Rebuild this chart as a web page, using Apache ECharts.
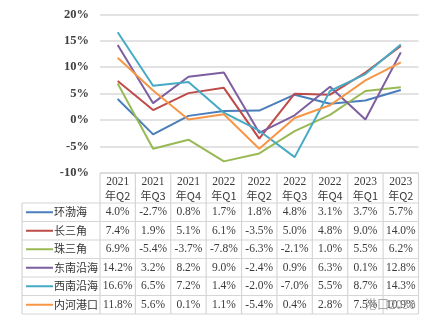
<!DOCTYPE html>
<html><head><meta charset="utf-8">
<script src="https://cdn.jsdelivr.net/npm/echarts@6/dist/echarts.min.js"></script>
<style>html,body{margin:0;padding:0;background:#fff}#c{width:434px;height:321px}</style>
</head><body><div id="c"></div>
<script>
const categories = ['2021年Q2','2021年Q3','2021年Q4','2022年Q1','2022年Q2','2022年Q3','2022年Q4','2023年Q1','2023年Q2'];
const headerTop = ['2021','2021','2021','2022','2022','2022','2022','2023','2023'];
const headerBottom = ['年Q2','年Q3','年Q4','年Q1','年Q2','年Q3','年Q4','年Q1','年Q2'];
const seriesNames = ['环渤海','长三角','珠三角','东南沿海','西南沿海','内河港口'];
const bohai    = [4.0, -2.7, 0.8, 1.7, 1.8, 4.8, 3.1, 3.7, 5.7];
const changsj  = [7.4, 1.9, 5.1, 6.1, -3.5, 5.0, 4.8, 9.0, 14.0];
const zhusj    = [6.9, -5.4, -3.7, -7.8, -6.3, -2.1, 1.0, 5.5, 6.2];
const dongnan  = [14.2, 3.2, 8.2, 9.0, -2.4, 0.9, 6.3, 0.1, 12.8];
const xinan    = [16.6, 6.5, 7.2, 1.4, -2.0, -7.0, 5.5, 8.7, 14.3];
const neihe    = [11.8, 5.6, 0.1, 1.1, -5.4, 0.4, 2.8, 7.5, 10.9];
const yMin = -10, yMax = 20, yStep = 5;
const colors = ['#4a7ebb','#be4b48','#98b954','#7d5fa0','#46aac5','#f79646'];
const allData = [bohai, changsj, zhusj, dongnan, xinan, neihe];

const chart = echarts.init(document.getElementById('c'));
const gridL = 100, gridR = 15.5, gridT = 14.3, gridB = 148;
chart.setOption({
  animation: false,
  grid: {left: gridL, right: gridR, top: gridT, bottom: gridB},
  xAxis: {type: 'category', data: categories, boundaryGap: true,
    axisLine: {show: false}, axisTick: {show: false}, axisLabel: {show: false}},
  yAxis: {type: 'value', min: yMin, max: yMax, interval: yStep,
    axisLine: {show: false}, axisTick: {show: false},
    splitLine: {lineStyle: {color: '#d9d9d9', width: 1.5}},
    axisLabel: {formatter: v => v + '%', color: '#404040', fontFamily: 'Liberation Serif', fontSize: 12.5, fontWeight: 'bold', margin: 11}},
  series: seriesNames.map((n, i) => ({
    name: n, type: 'line', data: allData[i], symbol: 'none',
    lineStyle: {color: colors[i], width: 2}, itemStyle: {color: colors[i]}
  }))
});

// table
const n = categories.length;
const x0 = chart.convertToPixel({xAxisIndex: 0}, 0);
const x1 = chart.convertToPixel({xAxisIndex: 0}, 1);
const bw = x1 - x0;
const colEdges = [];
for (let i = 0; i <= n; i++) colEdges.push(x0 - bw / 2 + i * bw);
const tableTop = chart.convertToPixel({yAxisIndex: 0}, yMin);
const headerBottomY = tableTop + 30;
const rowH = 18.5;
const leftX = 22;
const rowEdges = [];
for (let r = 0; r <= seriesNames.length; r++) rowEdges.push(headerBottomY + r * rowH);
const tableBottom = rowEdges[rowEdges.length - 1];
const border = {stroke: '#d6d6d6', lineWidth: 1.2};
const g = [];
g.push({type: 'line', shape: {x1: colEdges[0], y1: tableTop, x2: colEdges[n], y2: tableTop}, style: border, silent: true});
rowEdges.forEach(y => g.push({type: 'line', shape: {x1: leftX, y1: y, x2: colEdges[n], y2: y}, style: border, silent: true}));
g.push({type: 'line', shape: {x1: leftX, y1: headerBottomY, x2: leftX, y2: tableBottom}, style: border, silent: true});
colEdges.forEach(x => g.push({type: 'line', shape: {x1: x, y1: tableTop, x2: x, y2: tableBottom}, style: border, silent: true}));
const numFont = {fontFamily: 'Liberation Serif', fontSize: 11.5, fontWeight: 'normal', fill: '#3a3a3a'};
for (let i = 0; i < n; i++) {
  const cx = chart.convertToPixel({xAxisIndex: 0}, i);
  g.push({type: 'text', x: cx, y: tableTop + 8.5, style: Object.assign({text: headerTop[i], align: 'center', verticalAlign: 'middle'}, numFont), silent: true});
  g.push({type: 'text', x: cx, y: tableTop + 22.5, style: Object.assign({text: headerBottom[i], align: 'center', verticalAlign: 'middle'}, numFont, {fontFamily: 'Noto Sans CJK SC, Liberation Serif', fontSize: 11}), silent: true});
}
seriesNames.forEach((name, r) => {
  const cy = rowEdges[r] + rowH / 2;
  g.push({type: 'line', shape: {x1: 26, y1: cy, x2: 53, y2: cy}, style: {stroke: colors[r], lineWidth: 2}, silent: true});
  g.push({type: 'text', x: 54, y: cy, style: {text: name, verticalAlign: 'middle', fontFamily: 'Noto Sans CJK SC', fontSize: 11, fill: '#333'}, silent: true});
  allData[r].forEach((v, i) => {
    const cx = chart.convertToPixel({xAxisIndex: 0}, i);
    g.push({type: 'text', x: cx, y: cy, style: Object.assign({text: v.toFixed(1) + '%', align: 'center', verticalAlign: 'middle'}, numFont), silent: true});
  });
});
g.push({type: 'text', x: 365, y: 304, style: {text: '港口2030', verticalAlign: 'middle', fontFamily: 'Noto Sans CJK SC', fontSize: 12, fill: '#9a9a9a', opacity: 0.85}, silent: true});
chart.setOption({graphic: g});
</script></body></html>
